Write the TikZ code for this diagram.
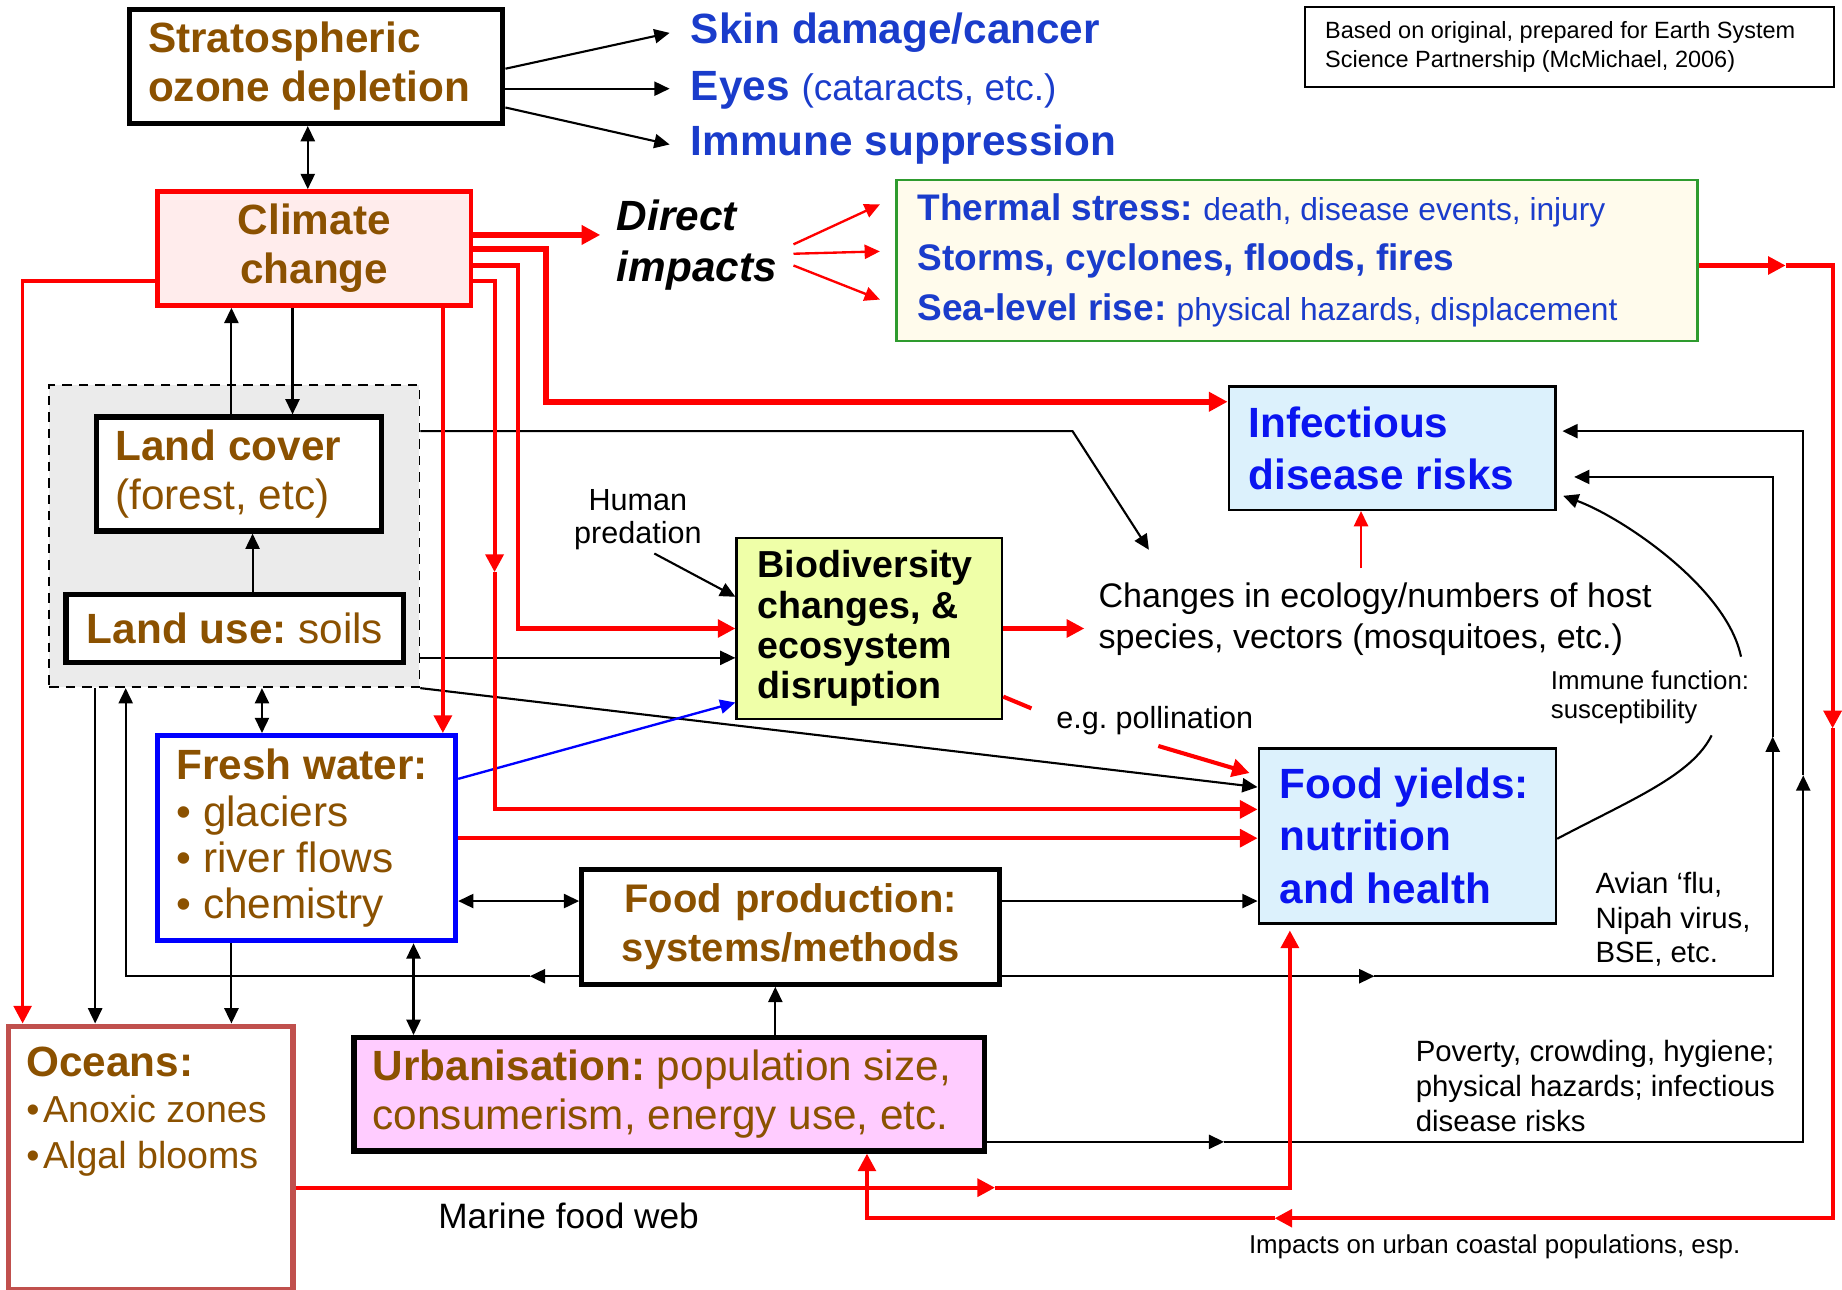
\documentclass[tikz,border=0pt]{standalone}
\usepackage{fontspec}
\setmainfont{Liberation Sans}
\usepackage{tikz}
\usetikzlibrary{arrows.meta, positioning}
\definecolor{brownish}{HTML}{8B5100}
\definecolor{darkblue}{HTML}{1A3CCB}
\definecolor{brightblue}{HTML}{0A14F0}
\definecolor{climatefill}{HTML}{FFECEC}
\definecolor{thermalfill}{HTML}{FFFBEC}
\definecolor{thermalline}{HTML}{2E9B2E}
\definecolor{healthfill}{HTML}{DCF1FC}
\definecolor{biofill}{HTML}{EFFFA8}
\definecolor{urbanfill}{HTML}{FFCCFF}
\definecolor{oceanline}{HTML}{C0504D}
\definecolor{landfill}{HTML}{EBEBEB}
\tikzset{
    >={Triangle[length=13pt, width=12pt]}, % filled arrow heads
    thickbox/.style={draw, line width=4.5pt, fill=white, align=flush left, inner xsep=16pt, inner ysep=0pt},
    thinbox/.style={draw, line width=2pt, align=flush left, inner xsep=17pt, inner ysep=0pt},
    link/.style={line width=1.8pt}, % black connectors
    redlink/.style={draw=red, line width=3.5pt, >={Triangle[length=15pt, width=15pt]}},
    redbold/.style={draw=red, line width=5pt, >={Triangle[length=16pt, width=16pt]}},
    redthin/.style={draw=red, line width=2pt},
    note/.style={inner sep=0pt, align=flush left},
}

\begin{document}
\frenchspacing
\begin{tikzpicture}[x=1pt, y=-1pt]
\useasboundingbox (0,0) rectangle (1568,1098);

% top row
\node[thickbox, text width=286pt, minimum height=97pt, text=brownish, font=\fontsize{36}{42}\selectfont\bfseries] (strato) at (269,56.5) {Stratospheric\\ozone depletion};
\node[anchor=west, inner xsep=18pt, inner ysep=0pt, text=darkblue, font=\fontsize{36}{42}\selectfont\bfseries] (skin) at (570,28) {Skin damage/cancer};
\node[anchor=west, inner xsep=18pt, inner ysep=0pt, text=darkblue, font=\fontsize{36}{42}\selectfont] (eyes) at (570,77) {\textbf{Eyes} {\fontsize{31.5}{36}\selectfont (cataracts, etc.)}};
\node[anchor=west, inner xsep=18pt, inner ysep=0pt, text=darkblue, font=\fontsize{36}{42}\selectfont\bfseries] (immune) at (570,123) {Immune suppression};
\node[draw, line width=1.5pt, note, inner xsep=17pt, text width=416pt, minimum height=68pt, font=\fontsize{20}{24}\selectfont] (based) at (1336,40) {Based on original, prepared for Earth System\\Science Partnership (McMichael, 2006)};

\node[thickbox, draw=red, line width=4pt, fill=climatefill, align=center, text width=235pt, minimum height=97pt, text=brownish, font=\fontsize{36}{42}\selectfont\bfseries] (climate) at (267.5,211.5) {Climate\\change};
\node[anchor=west, inner xsep=14pt, inner ysep=0pt, align=flush left, font=\fontsize{36}{43}\selectfont\bfseries\itshape] (direct) at (511,208.5) {Direct\\impacts};
\node[thinbox, draw=thermalline, fill=thermalfill, inner xsep=18pt, text width=646pt, minimum height=137pt, text=darkblue, font=\fontsize{31.5}{42.5}\selectfont] (thermal) at (1104,221.5) {\textbf{Thermal stress:} {\fontsize{27}{42.5}\selectfont death, disease events, injury}\\\textbf{Storms, cyclones, floods, fires}\\\textbf{Sea-level rise:} {\fontsize{27}{42.5}\selectfont physical hazards, displacement}};

% land
\node[draw, dashed, dash pattern=on 8pt off 6pt, line width=1.5pt, fill=landfill, minimum width=315pt, minimum height=257pt, inner sep=0pt] (landbox) at (199.5,456.5) {};
\node[thickbox, text width=210.5pt, minimum height=97pt, text=brownish, font=\fontsize{36}{42}\selectfont] (landcover) at (203.5,403.5) {\textbf{Land cover}\\(forest, etc)};
\node[thickbox, minimum width=287.5pt, minimum height=57.5pt, text=brownish, font=\fontsize{36}{42}\selectfont] (landuse) at (200,535) {\textbf{Land use:} soils};

% middle
\node[thinbox, fill=healthfill, text width=244pt, minimum height=105pt, text=brightblue, font=\fontsize{36}{44}\selectfont\bfseries] (infect) at (1185,381.5) {Infectious\\disease risks};
\node[thinbox, fill=biofill, inner xsep=18pt, text width=190pt, minimum height=154pt, font=\fontsize{32}{34.3}\selectfont\bfseries] (bio) at (740,535) {Biodiversity\\changes, \&\\ecosystem\\disruption};
\node[anchor=west, inner sep=12pt, align=flush left, font=\fontsize{29}{35}\selectfont] (changes) at (923,527) {Changes in ecology/numbers of host\\species, vectors (mosquitoes, etc.)};
\node[align=center, font=\fontsize{26}{28}\selectfont] (human) at (543,442) {Human\\predation};
\node[inner sep=0pt, font=\fontsize{26}{30}\selectfont] (poll) at (983,613) {e.g. pollination};
\node[note, anchor=west, font=\fontsize{22}{25}\selectfont] (immunefn) at (1320,593.5) {Immune function:\\susceptibility};
\node[thinbox, fill=healthfill, inner xsep=18pt, text width=217pt, minimum height=149pt, text=brightblue, font=\fontsize{36}{44.5}\selectfont\bfseries] (food) at (1198,711.5) {Food yields:\\nutrition\\and health};
\node[note, anchor=west, font=\fontsize{25}{29.5}\selectfont] (avian) at (1358,782.5) {Avian ‘flu,\\Nipah virus,\\BSE, etc.};

% lower
\node[thickbox, draw=blue, text width=221.5pt, minimum height=174.5pt, text=brownish, font=\fontsize{36}{39.3}\selectfont] (fresh) at (261,713.5) {\textbf{Fresh water:}\\• glaciers\\• river flows\\• chemistry};
\node[thickbox, align=center, text width=323.5pt, minimum height=97.5pt, text=brownish, font=\fontsize{34}{42}\selectfont\bfseries] (foodprod) at (673,789) {Food production:\\systems/methods};
\node[thickbox, fill=urbanfill, text width=504.5pt, minimum height=96.5pt, text=brownish, font=\fontsize{36}{42}\selectfont] (urban) at (569.5,931.5) {\textbf{Urbanisation:} population size,\\consumerism, energy use, etc.};
\node[thickbox, draw=oceanline, anchor=north west, inner xsep=15pt, inner ysep=18pt, text width=212pt, text=brownish, font=\fontsize{32}{39}\selectfont] (oceans) at (5.25,871.25) {{\fontsize{36}{39}\selectfont\bfseries Oceans:}\\•\hspace{3pt}Anoxic zones\\•\hspace{3pt}Algal blooms\\[46pt]\mbox{}};
\node[note, anchor=west, font=\fontsize{25}{29.5}\selectfont] (poverty) at (1205,924.5) {Poverty, crowding, hygiene;\\physical hazards; infectious\\disease risks};
\node[font=\fontsize{30}{36}\selectfont] (marine) at (484,1035) {Marine food web};
\node[note, anchor=west, font=\fontsize{22}{26}\selectfont] (coastal) at (1063,1061) {Impacts on urban coastal populations, esp.};

% bends
\coordinate (infectbend) at (465,342);
\coordinate (biobend) at (441,535);
\coordinate (foodbend) at (421,487);
\coordinate (foodcorner) at (421,689);
\coordinate (seamid) at (1520,226);
\coordinate (seadown) at (1560,620);
\coordinate (sealeft) at (1085,1037);
\coordinate (ecobend) at (913,367);
\coordinate (ecotip) at (978,468);
\coordinate (landback) at (451,831);
\coordinate (prodmid) at (1170,831);
\coordinate (produp) at (1509,627);
\coordinate (urbanmid) at (1042,972);
\coordinate (urbanup) at (1535,660);
\coordinate (marinemid) at (847,1011);
\coordinate (pollA) at (878,603);
\coordinate (pollB) at (986,635);
\coordinate (immuneA) at (1457,626);
\coordinate (immuneB) at (1482,559);

% black links
\draw[link,->] ([yshift=-2pt]strato.east) -- (skin.west);
\draw[link,->] ([yshift=-19pt]strato.east) -- ([yshift=-19pt]strato.east -| eyes.west);
\draw[link,->] ([yshift=-35pt]strato.east) -- (immune.west);
\draw[link,<->] ([xshift=-7pt]strato.south) -- ([xshift=-7pt]strato.south |- climate.north);
\draw[link,->] ([xshift=-6.5pt]landcover.north) -- ([xshift=-6.5pt]landcover.north |- climate.south);
\draw[link,->] ([xshift=45.5pt]landcover.north |- climate.south) -- ([xshift=45.5pt]landcover.north);
\draw[link,->] ([xshift=15pt]landuse.north) -- ([xshift=15pt]landuse.north |- landcover.south);
\draw[link,->] (landbox.east |- ecobend) -- (ecobend) -- (ecotip);
\draw[link,->] ([yshift=-103.5pt]landbox.east) -- ([yshift=-103.5pt]landbox.east -| bio.west);
\draw[link,->] (landbox.south east) -- ([yshift=41.5pt]food.west);
\draw[link,<->] ([xshift=23.5pt]landbox.south) -- ([xshift=23.5pt]landbox.south |- fresh.north);
\draw[link,->] ([xshift=-118.5pt]landbox.south) -- ([xshift=-118.5pt]landbox.south |- oceans.north);
\draw[link,->] ([xshift=-64pt]fresh.south) -- ([xshift=-64pt]fresh.south |- oceans.north);
\draw[link,<->] ([yshift=-53.5pt]fresh.east) -- ([yshift=-53.5pt]fresh.east -| foodprod.west);
\draw[link,<->] ([xshift=91pt]fresh.south) -- ([xshift=91pt]fresh.south |- urban.north);
\draw[link,->] ([xshift=90.5pt]urban.north) -- ([xshift=90.5pt]urban.north |- foodprod.south);
\draw[link,->] (foodprod.west |- landback) -- (landback);
\draw[link,->] (landback) -| ([xshift=-92.5pt]landbox.south);
\draw[link,->] ([yshift=22pt]foodprod.east) -- ([yshift=22pt]foodprod.east -| food.west);
\draw[link,->] (foodprod.east |- prodmid) -- (prodmid);
\draw[link,->] (prodmid) -| (produp);
\draw[link,->, shorten >=15pt] (produp) |- ([yshift=-24.5pt]infect.east);
\draw[link,->] (urban.east |- urbanmid) -- (urbanmid);
\draw[link,->] (urbanmid) -| (urbanup);
\draw[link,->, shorten >=5pt] (urbanup) |- ([yshift=14.5pt]infect.east);
\draw[link,->] ([xshift=14pt]human.south) -- ([yshift=27pt]bio.west);
\draw[link] ([yshift=-2.5pt]food.east) .. controls (1390,680) and (1440,660) .. (immuneA);
\draw[link,->, shorten >=6pt] (immuneB) .. controls (1470,500) and (1380,440) .. ([yshift=-38.5pt]infect.east);
\draw[line width=2pt, blue, ->] ([yshift=50.5pt]fresh.east) -- ([yshift=-63pt]bio.west);

% red links
\draw[redbold,->] ([yshift=11.5pt]climate.east) -- ([yshift=11.5pt]climate.east -| direct.west);
\draw[redthin,->] ([yshift=0.5pt]direct.east) -- ([xshift=-13pt,yshift=47.5pt]thermal.west);
\draw[redthin,->] ([yshift=-7.5pt]direct.east) -- ([xshift=-13pt,yshift=7.5pt]thermal.west);
\draw[redthin,->] ([yshift=-17.5pt]direct.east) -- ([xshift=-13pt,yshift=-33.5pt]thermal.west);
\draw[redbold,->] ([yshift=-0.5pt]climate.east) -| (infectbend) -- (infectbend -| infect.west);
\draw[redlink,->] ([yshift=-14.5pt]climate.east) -| (biobend) -- (bio.west);
\draw[redlink,->] ([yshift=-27.5pt]climate.east) -| (foodbend);
\draw[redlink,->] (foodbend) -- (foodcorner) -- (foodcorner -| food.west);
\draw[redlink,->] ([xshift=109.5pt]climate.south) -- ([xshift=109.5pt]climate.south |- fresh.north);
\draw[redlink,line width=3pt,->] ([yshift=-27.5pt]climate.west) -| ([xshift=-109.25pt]oceans.north);
\draw[redlink,->] (fresh.east) -- (fresh.east -| food.west);
\draw[redlink,->] ([yshift=-4.5pt]thermal.east) -- (seamid);
\draw[redlink,->] (seamid) -| (seadown);
\draw[redlink,->] (seadown) |- (sealeft);
\draw[redlink,->] (sealeft) -| ([xshift=168.5pt]urban.south);
\draw[redlink,->] (bio.east) -- (bio.east -| changes.west);
\draw[redthin,->] ([xshift=-12pt]changes.north) -- ([xshift=-12pt]changes.north |- infect.south);
\draw[redlink] ([yshift=-58pt]bio.east) -- (pollA);
\draw[redlink,->, shorten >=7pt] (pollB) -- ([yshift=51.5pt]food.west);
\draw[redlink,->] (oceans.east |- marinemid) -- (marinemid);
\draw[redlink,->, shorten >=5pt] (marinemid) -| ([xshift=-100pt]food.south);
\end{tikzpicture}
\end{document}
